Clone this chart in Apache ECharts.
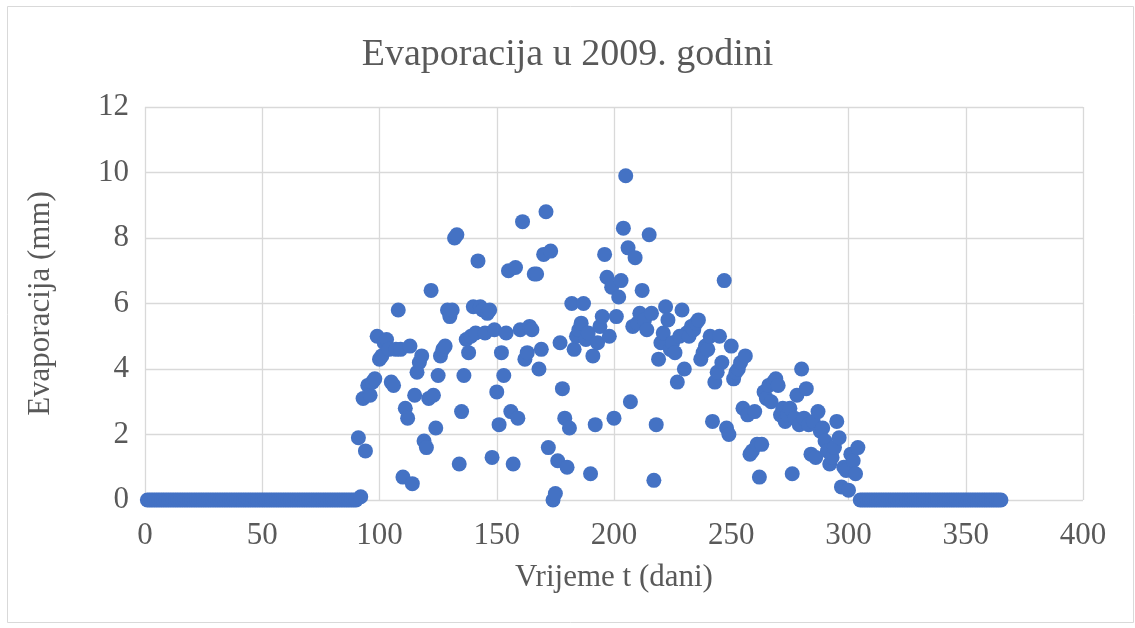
<!DOCTYPE html>
<html>
<head>
<meta charset="utf-8">
<script src="https://cdn.jsdelivr.net/npm/echarts@6/dist/echarts.min.js"></script>
<style>
html,body{margin:0;padding:0;background:#fff;}
#chart{width:1135px;height:628px;}
</style>
</head>
<body>
<div id="chart"></div>
<script>
// Days 91..304 (days 1-90 and 305-365 are 0)
const startDay = 91;
const activeValues = [
  1.9, 0.1, 3.1, 1.5, 3.5, 3.2, 3.6, 3.7, 5.0, 4.3,
  4.4, 4.8, 4.9, 4.6, 3.6, 3.5, 4.6, 5.8, 4.6, 0.7,
  2.8, 2.5, 4.7, 0.5, 3.2, 3.9, 4.2, 4.4, 1.8, 1.6,
  3.1, 6.4, 3.2, 2.2, 3.8, 4.4, 4.6, 4.7, 5.8, 5.6,
  5.8, 8.0, 8.1, 1.1, 2.7, 3.8, 4.9, 4.5, 5.0, 5.9,
  5.1, 7.3, 5.9, 5.8, 5.1, 5.7, 5.8, 1.3, 5.2, 3.3,
  2.3, 4.5, 3.8, 5.1, 7.0, 2.7, 1.1, 7.1, 2.5, 5.2,
  8.5, 4.3, 4.5, 5.3, 5.2, 6.9, 6.9, 4.0, 4.6, 7.5,
  8.8, 1.6, 7.6, 0.0, 0.2, 1.2, 4.8, 3.4, 2.5, 1.0,
  2.2, 6.0, 4.6, 5.0, 5.2, 5.4, 6.0, 4.9, 5.1, 0.8,
  4.4, 2.3, 4.8, 5.3, 5.6, 7.5, 6.8, 5.0, 6.5, 2.5,
  5.6, 6.2, 6.7, 8.3, 9.9, 7.7, 3.0, 5.3, 7.4, 5.4,
  5.7, 6.4, 5.5, 5.2, 8.1, 5.7, 0.6, 2.3, 4.3, 4.8,
  5.1, 5.9, 5.5, 4.6, 4.8, 4.5, 3.6, 5.0, 5.8, 4.0,
  5.1, 5.0, 5.3, 5.2, 5.4, 5.5, 4.3, 4.5, 4.7, 4.6,
  5.0, 2.4, 3.6, 3.9, 5.0, 4.2, 6.7, 2.2, 2.0, 4.7,
  3.7, 3.9, 4.0, 4.2, 2.8, 4.4, 2.6, 1.4, 1.5, 2.7,
  1.7, 0.7, 1.7, 3.3, 3.1, 3.5, 3.0, 3.6, 3.7, 3.5,
  2.6, 2.8, 2.4, 2.6, 2.8, 0.8, 2.5, 3.2, 2.3, 4.0,
  2.5, 3.4, 2.3, 1.4, 2.4, 1.3, 2.7, 2.1, 2.2, 1.8,
  1.5, 1.1, 1.3, 1.6, 2.4, 1.9, 0.4, 1.0, 0.9, 0.3,
  1.4, 1.2, 0.8, 1.6
];
const totalDays = 365;
const xTicks = [0, 50, 100, 150, 200, 250, 300, 350, 400];
const yTicks = [0, 2, 4, 6, 8, 10, 12];

const points = [];
for (let d = 1; d <= totalDays; d++) {
  const i = d - startDay;
  const v = (i >= 0 && i < activeValues.length) ? activeValues[i] : 0;
  points.push([d, v]);
}

const serif = '"Liberation Serif", "Times New Roman", serif';
const chart = echarts.init(document.getElementById('chart'));
chart.setOption({
  animation: false,
  backgroundColor: '#fff',
  title: {
    text: 'Evaporacija u 2009. godini',
    left: 'center',
    top: 31,
    textStyle: {fontFamily: serif, fontSize: 38, fontWeight: 'normal', color: '#595959'}
  },
  graphic: [{
    type: 'rect',
    shape: {x: 7.5, y: 6.5, width: 1126, height: 616},
    style: {fill: 'none', stroke: '#d9d9d9', lineWidth: 1},
    silent: true,
    z: -1
  }],
  grid: {left: 145, right: 52, top: 107, bottom: 128},
  xAxis: {
    type: 'value',
    min: xTicks[0],
    max: xTicks[xTicks.length - 1],
    interval: 50,
    name: 'Vrijeme t (dani)',
    nameLocation: 'middle',
    nameGap: 62,
    nameTextStyle: {fontFamily: serif, fontSize: 31, color: '#595959'},
    axisLine: {show: false},
    axisTick: {show: false},
    axisLabel: {fontFamily: serif, fontSize: 31, color: '#595959', margin: 20},
    splitLine: {show: true, lineStyle: {color: '#d9d9d9', width: 1.3}}
  },
  yAxis: {
    type: 'value',
    min: yTicks[0],
    max: yTicks[yTicks.length - 1],
    interval: 2,
    name: 'Evaporacija (mm)',
    nameLocation: 'middle',
    nameGap: 89,
    nameRotate: 90,
    nameTextStyle: {fontFamily: serif, fontSize: 31, color: '#595959'},
    axisLine: {show: false},
    axisTick: {show: false},
    axisLabel: {fontFamily: serif, fontSize: 31, color: '#595959', margin: 16},
    splitLine: {show: true, lineStyle: {color: '#d9d9d9', width: 1.3}}
  },
  series: [{
    type: 'scatter',
    data: points,
    symbol: 'circle',
    symbolSize: 15,
    itemStyle: {color: '#4472C4', opacity: 1},
    clip: false
  }]
});
</script>
</body>
</html>
